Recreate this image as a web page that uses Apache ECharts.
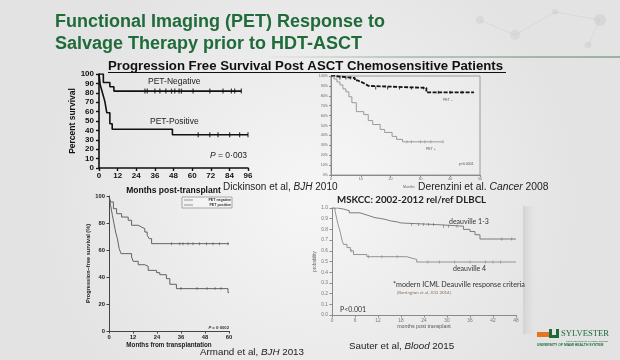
<!DOCTYPE html>
<html><head><meta charset="utf-8">
<script src="https://cdn.jsdelivr.net/npm/echarts@6/dist/echarts.min.js"></script>
<style>html,body{margin:0;padding:0;background:#ececec}#c{width:620px;height:360px}</style>
</head><body><div id="c"></div>
<script>
// ---------- Dickinson et al, BJH 2010 ----------
const dickTicksX = [0, 12, 24, 36, 48, 60, 72, 84, 96];
const dickTicksY = [0, 10, 20, 30, 40, 50, 60, 70, 80, 90, 100];
const dickNegT = [0, 2.8, 7, 9.6];
const dickNegS = [100, 90.9, 86.4, 81.8];
const dickNegEnd = 91.7;
const dickNegCens = [29.6, 31.1, 36, 39.2, 43.1, 46.7, 48.8, 51.6, 53.1, 60.6, 71.4, 79.9, 85.3, 87.4, 91.7];
const dickPosT = [0, 0.8, 1.8, 2.8, 3.8, 5, 7, 8.5, 47.3];
const dickPosS = [100, 88.2, 82.4, 76.5, 70.6, 58.8, 47.1, 41.2, 35.3];
const dickPosEnd = 96;
const dickPosCens = [63.9, 71.4, 76.7, 84.2, 90.6, 96];

// ---------- Derenzini et al. Cancer 2008 ----------
const derTicksX = [0, 10, 20, 30, 40, 50];
const derTicksY = [0, 10, 20, 30, 40, 50, 60, 70, 80, 90, 100];
const derNegT = [0, 1, 8, 9, 10.5, 11.5, 12.6, 32];
const derNegS = [100, 98, 95.5, 93.5, 92, 90, 88, 83.5];
const derNegEnd = 48;
const derNegCens = [3, 5, 6.5, 15, 19, 23, 27, 31, 36, 40, 44];
const derPosT = [0, 1, 2, 3, 4, 5, 6, 7, 8.5, 11, 12.5, 14, 16.5, 18, 20.5, 22, 24];
const derPosS = [100, 97, 94, 91, 87, 84, 79, 73, 64, 61, 55, 51, 46, 43, 39, 36, 33.5];
const derPosEnd = 37.6;
const derPosCens = [25.5, 27, 30, 31.5, 33.5, 37.6];

// ---------- Armand et al, BJH 2013 ----------
const armTicksX = [0, 12, 24, 36, 48, 60];
const armTicksY = [0, 20, 40, 60, 80, 100];
const armNegT = [0, 0.8, 2.2, 3.8, 6.3, 9.6, 11.3, 14.6, 16.3, 17.9, 19.1, 20.1, 21.3];
const armNegS = [100, 95.6, 90.6, 86.9, 84.4, 82, 78.3, 77, 75.8, 73.3, 70.9, 68.4, 64.7];
const armNegEnd = 60;
const armNegCens = [31.2, 35.4, 37, 39.5, 42, 45.3, 48.7, 52, 55.3, 59.5];
const armPosT = [0, 0.8, 1.7, 2.5, 3.3, 4.2, 5.1, 6.0, 11.3, 12.1, 14.6, 17.9, 19.6, 23.8, 25.4, 28.7, 30.4, 33.7, 59.5];
const armPosS = [100, 93, 85.7, 79.5, 73.3, 68.4, 61, 57.3, 54.8, 51.6, 49.1, 47.9, 44.9, 43.2, 41.7, 38.8, 34.6, 31.4, 28.4];
const armPosEnd = 60;
const armPosCens = [36, 44, 49, 53, 56];

// ---------- Sauter et al, Blood 2015 ----------
const sauTicksX = [0, 6, 12, 18, 24, 30, 36, 42, 48];
const sauTicksY = [0, 0.1, 0.2, 0.3, 0.4, 0.5, 0.6, 0.7, 0.8, 0.9, 1.0];
const sauD13T = [0, 1.5, 3, 4.5, 7.3, 8.6, 9.9, 11.2, 13, 14.3, 15.2, 17, 18, 27.3, 34.3, 36, 37.3, 38.6];
const sauD13S = [1.0, 0.99, 0.975, 0.955, 0.94, 0.925, 0.91, 0.90, 0.89, 0.88, 0.87, 0.86, 0.845, 0.83, 0.80, 0.78, 0.75, 0.71];
const sauD13End = 48;
const sauD13Cens = [20.8, 22.6, 23.9, 25.2, 26.5, 29.1, 30.4, 32.6, 44.3, 46.9];
const sauD4T = [0, 0.8, 1.3, 1.7, 2.2, 2.6, 3.0, 3.9, 4.8, 5.6, 9.1, 19.5, 20.4, 22.1];
const sauD4S = [1.0, 0.97, 0.89, 0.83, 0.77, 0.70, 0.66, 0.63, 0.60, 0.565, 0.545, 0.535, 0.52, 0.495];
const sauD4End = 48;
const sauD4Cens = [5, 9.5, 13, 17, 25, 28, 32, 36, 40, 42, 44];

const FF = '"Liberation Sans", Arial, sans-serif';
const FC = 'Lato, "Liberation Sans", sans-serif';

function km(T, S, end) { const d = T.map((t, i) => [t, S[i]]); d.push([end, S[S.length - 1]]); return d; }
function cens(T, S, times) {
  return times.map(t => { let s = S[0]; for (let i = 0; i < T.length; i++) if (T[i] <= t) s = S[i]; return [t, s]; });
}
function rng(ticks) { return { min: ticks[0], max: ticks[ticks.length - 1], interval: ticks[1] - ticks[0] }; }

function kmLine(gi, T, S, end, color, width, type) {
  return { type: 'line', xAxisIndex: gi, yAxisIndex: gi, step: 'end', symbol: 'none', showSymbol: false,
    data: km(T, S, end), lineStyle: { color, width, type: type || 'solid' }, silent: true, z: 3 };
}
function kmCens(gi, T, S, times, color, size) {
  return { type: 'scatter', xAxisIndex: gi, yAxisIndex: gi, data: cens(T, S, times), symbol: 'rect',
    symbolSize: size, itemStyle: { color }, silent: true, z: 4 };
}
function txt(x, y, text, size, o) {
  return { type: 'text', x, y, silent: true, z: 10,
    style: Object.assign({ text, fontSize: size, fontFamily: FF, fill: '#111', textVerticalAlign: 'middle', textAlign: 'left' }, o || {}) };
}

const chart = echarts.init(document.getElementById('c'), null, { renderer: 'canvas' });

const option = {
  animation: false,
  backgroundColor: { type: 'radial', x: 0.5, y: 0.55, r: 0.75,
    colorStops: [{ offset: 0, color: '#f6f6f6' }, { offset: 1, color: '#e3e3e3' }] },
  textStyle: { fontFamily: FF },
  grid: [
    { left: 99, top: 74, width: 149, height: 94 },
    { left: 331, top: 76, width: 149, height: 99, show: true, borderColor: '#9a9a9a', borderWidth: 1, backgroundColor: 'rgba(255,255,255,0.15)' },
    { left: 109, top: 196, width: 120, height: 135 },
    { left: 332, top: 208, width: 184, height: 107 }
  ],
  xAxis: [
    Object.assign({ gridIndex: 0, type: 'value', name: 'Months post-transplant', nameLocation: 'middle', nameGap: 18,
      nameTextStyle: { fontSize: 8.5, fontWeight: 'bold', color: '#111' },
      axisLine: { lineStyle: { color: '#111', width: 1.6 } }, axisTick: { length: 3, lineStyle: { color: '#111', width: 1.4 } },
      axisLabel: { fontSize: 8, fontWeight: 'bold', color: '#111', margin: 4 }, splitLine: { show: false } }, rng(dickTicksX)),
    Object.assign({ gridIndex: 1, type: 'value',
      axisLine: { lineStyle: { color: '#8a8a8a', width: 1 } }, axisTick: { length: 2, lineStyle: { color: '#8a8a8a' } },
      axisLabel: { fontSize: 3.6, color: '#666', margin: 2 }, splitLine: { show: false } }, rng(derTicksX)),
    Object.assign({ gridIndex: 2, type: 'value', name: 'Months from transplantation', nameLocation: 'middle', nameGap: 11,
      nameTextStyle: { fontSize: 6.3, fontWeight: 'bold', color: '#222' },
      axisLine: { lineStyle: { color: '#444', width: 1 } }, axisTick: { length: 2.5, lineStyle: { color: '#444' } },
      axisLabel: { fontSize: 5.8, fontWeight: 'bold', color: '#222', margin: 3 }, splitLine: { show: false } }, rng(armTicksX)),
    Object.assign({ gridIndex: 3, type: 'value', name: 'months post transplant', nameLocation: 'middle', nameGap: 9,
      nameTextStyle: { fontSize: 5.3, color: '#555' },
      axisLine: { lineStyle: { color: '#8a8a8a', width: 1 } }, axisTick: { length: 2.5, lineStyle: { color: '#8a8a8a' } },
      axisLabel: { fontSize: 4.8, color: '#777', margin: 3 }, splitLine: { show: false } }, rng(sauTicksX))
  ],
  yAxis: [
    Object.assign({ gridIndex: 0, type: 'value', name: 'Percent survival', nameLocation: 'middle', nameGap: 19, nameRotate: 90,
      nameTextStyle: { fontSize: 8.5, fontWeight: 'bold', color: '#111' },
      axisLine: { show: true, lineStyle: { color: '#111', width: 1.6 } }, axisTick: { show: true, length: 3, lineStyle: { color: '#111', width: 1.4 } },
      axisLabel: { fontSize: 8, fontWeight: 'bold', color: '#111', margin: 5 }, splitLine: { show: false } }, rng(dickTicksY)),
    Object.assign({ gridIndex: 1, type: 'value',
      axisLine: { show: true, lineStyle: { color: '#8a8a8a', width: 1 } }, axisTick: { show: true, length: 2, lineStyle: { color: '#8a8a8a' } },
      axisLabel: { fontSize: 3.6, color: '#666', margin: 3, formatter: '{value}%' }, splitLine: { show: false } }, rng(derTicksY)),
    Object.assign({ gridIndex: 2, type: 'value', name: 'Progression\u2212free survival (%)', nameLocation: 'middle', nameGap: 16, nameRotate: 90,
      nameTextStyle: { fontSize: 5.6, fontWeight: 'bold', color: '#222' },
      axisLine: { show: true, lineStyle: { color: '#444', width: 1 } }, axisTick: { show: true, length: 2.5, lineStyle: { color: '#444' } },
      axisLabel: { fontSize: 5.8, fontWeight: 'bold', color: '#222', margin: 4 }, splitLine: { show: false } }, rng(armTicksY)),
    Object.assign({ gridIndex: 3, type: 'value', name: 'probability', nameLocation: 'middle', nameGap: 15, nameRotate: 90,
      nameTextStyle: { fontSize: 4.5, color: '#666' },
      axisLine: { show: true, lineStyle: { color: '#8a8a8a', width: 1 } }, axisTick: { show: true, length: 2.5, lineStyle: { color: '#8a8a8a' } },
      axisLabel: { fontSize: 4.8, color: '#777', margin: 4, formatter: v => v.toFixed(1) }, splitLine: { show: false } }, rng(sauTicksY))
  ],
  series: [
    kmLine(0, dickNegT, dickNegS, dickNegEnd, '#111', 1.6),
    kmCens(0, dickNegT, dickNegS, dickNegCens, '#111', [1.2, 5]),
    kmLine(0, dickPosT, dickPosS, dickPosEnd, '#111', 1.6),
    kmCens(0, dickPosT, dickPosS, dickPosCens, '#111', [1.2, 5]),

    kmLine(1, derNegT, derNegS, derNegEnd, '#151515', 1.8, [4, 1.5]),
    kmCens(1, derNegT, derNegS, derNegCens, '#151515', [1, 3]),
    kmLine(1, derPosT, derPosS, derPosEnd, '#9a9a9a', 1),
    kmCens(1, derPosT, derPosS, derPosCens, '#9a9a9a', [1, 3]),

    kmLine(2, armNegT, armNegS, armNegEnd, '#555', 0.9),
    kmCens(2, armNegT, armNegS, armNegCens, '#555', [0.8, 3]),
    kmLine(2, armPosT, armPosS, armPosEnd, '#555', 0.9),
    kmCens(2, armPosT, armPosS, armPosCens, '#555', [0.8, 3]),

    kmLine(3, sauD13T, sauD13S, sauD13End, '#6f6f6f', 0.9),
    kmCens(3, sauD13T, sauD13S, sauD13Cens, '#6f6f6f', [0.8, 3]),
    kmLine(3, sauD4T, sauD4S, sauD4End, '#8a8a8a', 0.9),
    kmCens(3, sauD4T, sauD4S, sauD4Cens, '#8a8a8a', [0.8, 3])
  ],
  graphic: [
    // background decoration (faint network top right)
    { type: 'circle', shape: { cx: 480, cy: 20, r: 4 }, style: { fill: 'rgba(170,170,170,0.18)' }, silent: true },
    { type: 'circle', shape: { cx: 515, cy: 35, r: 5 }, style: { fill: 'rgba(170,170,170,0.18)' }, silent: true },
    { type: 'circle', shape: { cx: 555, cy: 12, r: 3 }, style: { fill: 'rgba(170,170,170,0.18)' }, silent: true },
    { type: 'circle', shape: { cx: 600, cy: 20, r: 6 }, style: { fill: 'rgba(170,170,170,0.2)' }, silent: true },
    { type: 'circle', shape: { cx: 588, cy: 45, r: 3.5 }, style: { fill: 'rgba(170,170,170,0.18)' }, silent: true },
    { type: 'polyline', shape: { points: [[480, 20], [515, 35], [555, 12], [600, 20], [588, 45]] }, style: { stroke: 'rgba(170,170,170,0.18)', lineWidth: 1, fill: null }, silent: true },
    // slide edge strip near bottom-right chart
    { type: 'rect', shape: { x: 523, y: 206, width: 16, height: 128 },
      style: { fill: { type: 'linear', x: 0, y: 0, x2: 1, y2: 0, colorStops: [{ offset: 0, color: '#d2d2d2' }, { offset: 1, color: 'rgba(230,230,230,0)' }] } }, silent: true },
    // title
    txt(55, 22, 'Functional Imaging (PET) Response to', 18, { fontWeight: 'bold', fill: '#1f6b3a' }),
    txt(55, 44, 'Salvage Therapy prior to HDT-ASCT', 18, { fontWeight: 'bold', fill: '#1f6b3a' }),
    { type: 'line', shape: { x1: 260, y1: 57, x2: 620, y2: 57 }, silent: true,
      style: { lineWidth: 1.2, stroke: { type: 'linear', x: 0, y: 0, x2: 1, y2: 0, colorStops: [{ offset: 0, color: 'rgba(60,120,80,0)' }, { offset: 0.4, color: 'rgba(60,120,80,0.6)' }, { offset: 1, color: 'rgba(60,120,80,0.9)' }] } } },
    // subtitle
    txt(108, 66, 'Progression Free Survival Post ASCT Chemosensitive Patients', 13.2, { fontWeight: 'bold' }),
    { type: 'line', shape: { x1: 108, y1: 72.5, x2: 506, y2: 72.5 }, style: { stroke: '#111', lineWidth: 1 }, silent: true },
    // Dickinson labels
    txt(148, 82, 'PET-Negative', 8.5, { fill: '#222' }),
    txt(150, 122, 'PET-Positive', 8.5, { fill: '#222' }),
    txt(210, 156, '{i|P} = 0\u00b7003', 8.5, { fill: '#222', rich: { i: { fontStyle: 'italic', fontSize: 8.5, fontFamily: FF, fill: '#222' } } }),
    txt(223, 187, 'Dickinson et al, {i|BJH} 2010', 10, { fill: '#222', rich: { i: { fontStyle: 'italic', fontSize: 10, fontFamily: FF, fill: '#222' } } }),
    // Derenzini labels
    txt(443, 100, 'PET \u2013', 3.5, { fill: '#555' }),
    txt(426, 149, 'PET +', 3.5, { fill: '#555' }),
    txt(459, 164, 'p<0.0001', 3.5, { fill: '#555' }),
    txt(403, 187, 'Months', 3.5, { fill: '#666' }),
    txt(418, 187, 'Derenzini et al. {i|Cancer} 2008', 10.3, { fill: '#222', rich: { i: { fontStyle: 'italic', fontSize: 10.3, fontFamily: FF, fill: '#222' } } }),
    // Armand legend + labels
    { type: 'rect', shape: { x: 182, y: 197, width: 50, height: 11 }, style: { fill: 'rgba(255,255,255,0.3)', stroke: '#777', lineWidth: 0.6 }, silent: true },
    { type: 'line', shape: { x1: 184, y1: 200, x2: 193, y2: 200 }, style: { stroke: '#555', lineWidth: 0.6 }, silent: true },
    { type: 'line', shape: { x1: 184, y1: 205, x2: 193, y2: 205 }, style: { stroke: '#555', lineWidth: 0.6 }, silent: true },
    txt(231, 200, 'PET negative', 3.6, { fontWeight: 'bold', fill: '#333', textAlign: 'right' }),
    txt(231, 205, 'PET positive', 3.6, { fontWeight: 'bold', fill: '#333', textAlign: 'right' }),
    txt(229, 328, '{i|P} = 0\u00b70002', 4.2, { fontWeight: 'bold', fill: '#333', textAlign: 'right', rich: { i: { fontStyle: 'italic', fontWeight: 'bold', fontSize: 4.2, fontFamily: FF, fill: '#333' } } }),
    txt(200, 352, 'Armand et al, {i|BJH} 2013', 9.8, { fill: '#222', rich: { i: { fontStyle: 'italic', fontSize: 9.8, fontFamily: FF, fill: '#222' } } }),
    // Sauter labels
    txt(337, 200, 'MSKCC: 2002-2012 rel/ref DLBCL', 9.7, { fontWeight: 'bold', fill: '#222', fontFamily: FC }),
    txt(449, 222, 'deauville 1-3', 7, { fill: '#333', fontFamily: FC }),
    txt(453, 269, 'deauville 4', 7, { fill: '#333', fontFamily: FC }),
    txt(393, 285, '*modern ICML Deauville response criteria', 7.2, { fill: '#333', fontFamily: FC }),
    txt(397, 293, '(Barrington et al, JCO 2014)', 4.4, { fill: '#8a6e5e', fontFamily: FC }),
    txt(340, 310, 'P<0.001', 7, { fill: '#333', fontFamily: FC }),
    txt(349, 346, 'Sauter et al, {i|Blood} 2015', 9.8, { fill: '#222', rich: { i: { fontStyle: 'italic', fontSize: 9.8, fontFamily: FF, fill: '#222' } } }),
    // Sylvester logo
    { type: 'rect', shape: { x: 537, y: 332, width: 12, height: 5 }, style: { fill: '#e8731e' }, silent: true },
    { type: 'rect', shape: { x: 549, y: 329, width: 3, height: 9 }, style: { fill: '#1c6a3a' }, silent: true },
    { type: 'rect', shape: { x: 556, y: 329, width: 3, height: 9 }, style: { fill: '#1c6a3a' }, silent: true },
    { type: 'rect', shape: { x: 549, y: 335, width: 10, height: 3 }, style: { fill: '#1c6a3a' }, silent: true },
    txt(561, 334, 'SYLVESTER', 8.6, { fill: '#1c6a3a', fontFamily: '"Liberation Serif", serif' }),
    txt(566, 341, 'COMPREHENSIVE CANCER CENTER', 2.4, { fill: '#1c6a3a' }),
    txt(537, 345.5, 'UNIVERSITY OF MIAMI HEALTH SYSTEM', 3.4, { fill: '#1c6a3a', fontWeight: 'bold' })
  ]
};
chart.setOption(option);
</script>
</body></html>
